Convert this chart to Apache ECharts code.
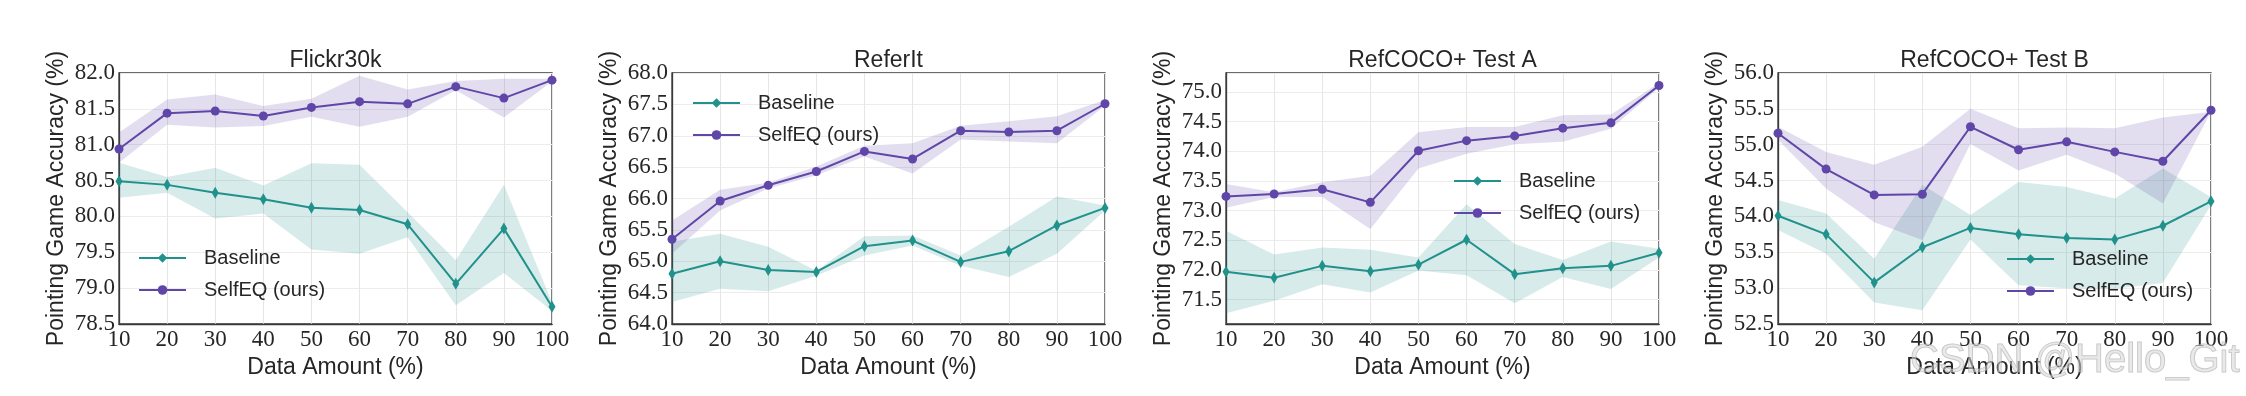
<!DOCTYPE html>
<html>
<head>
<meta charset="utf-8">
<script src="https://cdn.jsdelivr.net/npm/echarts@6/dist/echarts.min.js"></script>
<style>
  html, body { margin: 0; padding: 0; background: #fff; }
  #chart { width: 2246px; height: 396px; }
</style>
</head>
<body>
<div id="chart"></div>
<script>
// x categories (data amount %)
const dataAmount = ["10", "20", "30", "40", "50", "60", "70", "80", "90", "100"];

// Flickr30k
const flickrBase   = [80.49, 80.44, 80.33, 80.24, 80.12, 80.09, 79.89, 79.06, 79.83, 78.74];
const flickrBaseLo = [80.26, 80.33, 79.97, 80.04, 79.54, 79.48, 79.71, 78.76, 79.21, 78.68];
const flickrBaseHi = [80.75, 80.55, 80.68, 80.43, 80.74, 80.72, 80.06, 79.39, 80.44, 78.80];
const flickrSelf   = [80.94, 81.44, 81.47, 81.40, 81.52, 81.60, 81.57, 81.81, 81.65, 81.90];
const flickrSelfLo = [80.75, 81.28, 81.24, 81.26, 81.39, 81.25, 81.39, 81.76, 81.38, 81.88];
const flickrSelfHi = [81.17, 81.63, 81.70, 81.54, 81.64, 81.96, 81.77, 81.89, 81.92, 81.92];

// ReferIt
const referBase   = [64.80, 65.00, 64.86, 64.83, 65.24, 65.33, 64.99, 65.16, 65.57, 65.85];
const referBaseLo = [64.35, 64.56, 64.52, 64.77, 65.09, 65.25, 64.93, 64.75, 65.12, 65.81];
const referBaseHi = [65.31, 65.44, 65.23, 64.85, 65.40, 65.41, 65.09, 65.55, 66.03, 65.89];
const referSelf   = [65.35, 65.96, 66.21, 66.43, 66.75, 66.63, 67.08, 67.06, 67.08, 67.51];
const referSelfLo = [65.12, 65.81, 66.16, 66.37, 66.67, 66.40, 66.94, 66.91, 66.88, 67.48];
const referSelfHi = [65.65, 66.14, 66.25, 66.51, 66.84, 66.88, 67.16, 67.23, 67.31, 67.57];

// RefCOCO+ Test A
const testABase   = [71.97, 71.87, 72.07, 71.98, 72.09, 72.51, 71.93, 72.03, 72.07, 72.29];
const testABaseLo = [71.27, 71.48, 71.76, 71.62, 71.99, 71.91, 71.44, 71.88, 71.68, 72.21];
const testABaseHi = [72.66, 72.26, 72.38, 72.34, 72.21, 73.11, 72.44, 72.17, 72.48, 72.36];
const testASelf   = [73.24, 73.28, 73.36, 73.14, 74.01, 74.18, 74.26, 74.39, 74.48, 75.11];
const testASelfLo = [73.05, 73.23, 73.23, 72.69, 73.71, 73.96, 74.12, 74.16, 74.38, 75.07];
const testASelfHi = [73.45, 73.31, 73.48, 73.59, 74.32, 74.41, 74.41, 74.61, 74.62, 75.15];

// RefCOCO+ Test B
const testBBase   = [54.01, 53.75, 53.08, 53.57, 53.84, 53.75, 53.70, 53.68, 53.87, 54.21];
const testBBaseLo = [53.81, 53.48, 52.80, 52.69, 53.68, 53.04, 53.00, 52.99, 53.07, 54.16];
const testBBaseHi = [54.23, 54.04, 53.41, 54.44, 54.02, 54.48, 54.41, 54.25, 54.67, 54.27];
const testBSelf   = [55.16, 54.66, 54.30, 54.31, 55.25, 54.93, 55.04, 54.90, 54.77, 55.48];
const testBSelfLo = [55.07, 54.39, 53.92, 53.67, 55.01, 54.64, 54.86, 54.60, 54.18, 55.44];
const testBSelfHi = [55.25, 54.90, 54.72, 54.97, 55.50, 55.23, 55.24, 55.23, 55.38, 55.46];

const titles = ["Flickr30k", "ReferIt", "RefCOCO+ Test A", "RefCOCO+ Test B"];
const yMins = [78.5, 64.0, 71.09, 52.5];
const yMaxs = [82.0, 68.0, 75.32, 56.0];

const panels = [
  [flickrBase, flickrBaseLo, flickrBaseHi, flickrSelf, flickrSelfLo, flickrSelfHi],
  [referBase, referBaseLo, referBaseHi, referSelf, referSelfLo, referSelfHi],
  [testABase, testABaseLo, testABaseHi, testASelf, testASelfLo, testASelfHi],
  [testBBase, testBBaseLo, testBBaseHi, testBSelf, testBSelfLo, testBSelfHi]
];

// layout of the four axes boxes
const boxes = [
  { left: 119, legend: { left: 138, top: 247 } },
  { left: 672, legend: { left: 692, top: 92 } },
  { left: 1226, legend: { left: 1453, top: 170 } },
  { left: 1778, legend: { left: 2006, top: 248 } }
];
const boxWidth = 433;

const teal = "#21918c";
const purple = "#5f46a8";
const textColor = "#262626";
const serif = "Liberation Serif";
const sans = "Liberation Sans";

const diff = (hi, lo) => hi.map((v, i) => +(v - lo[i]).toFixed(3));

let grid = [], xAxis = [], yAxis = [], series = [], legend = [], graphic = [];

boxes.forEach((b, i) => {
  grid.push({
    left: b.left, top: 73, width: boxWidth, height: 251,
    show: true, borderColor: "#3a3a3a", borderWidth: 1.3, backgroundColor: "transparent"
  });
  xAxis.push({
    gridIndex: i, type: "category", boundaryGap: false, data: dataAmount,
    name: "Data Amount (%)", nameLocation: "middle", nameGap: 32,
    nameTextStyle: { fontFamily: sans, fontSize: 23, color: textColor },
    axisLine: { show: true, lineStyle: { color: "#3a3a3a", width: 1.3 } },
    axisTick: { show: false },
    axisLabel: { interval: 0, fontFamily: serif, fontSize: 23, color: textColor, margin: 4 },
    splitLine: { show: true, interval: 0, lineStyle: { color: "#e6e6e6", width: 1 } }
  });
  let yAx = {
    gridIndex: i, type: "value", min: yMins[i], max: yMaxs[i],
    name: "Pointing Game Accuracy (%)", nameLocation: "middle", nameGap: 51,
    nameTextStyle: { fontFamily: sans, fontSize: 23, color: textColor },
    axisLine: { show: true, lineStyle: { color: "#3a3a3a", width: 1.3 } },
    axisTick: { show: false },
    axisLabel: {
      fontFamily: serif, fontSize: 23, color: textColor, margin: 4,
      formatter: (v) => v.toFixed(1)
    },
    splitLine: { show: true, lineStyle: { color: "#ececec", width: 1 } }
  };
  if (i === 2) {
    // auto limits, ticks every 0.5
    yAx.splitNumber = 8;
    yAx.axisLabel.showMinLabel = false;
    yAx.axisLabel.showMaxLabel = false;
  } else {
    yAx.interval = 0.5;
  }
  yAxis.push(yAx);

  const [base, baseLo, baseHi, self, selfLo, selfHi] = panels[i];
  const common = { xAxisIndex: i, yAxisIndex: i, type: "line", animation: false };

  // shaded bands (stacked lower + width)
  series.push(Object.assign({}, common, {
    name: "bandB" + i, stack: "bandB" + i, data: baseLo,
    symbol: "none", lineStyle: { opacity: 0 }, silent: true, z: 1
  }));
  series.push(Object.assign({}, common, {
    name: "bandB" + i + "w", stack: "bandB" + i, data: diff(baseHi, baseLo),
    symbol: "none", lineStyle: { opacity: 0 }, silent: true, z: 1,
    areaStyle: { color: teal, opacity: 0.18 }
  }));
  series.push(Object.assign({}, common, {
    name: "bandS" + i, stack: "bandS" + i, data: selfLo,
    symbol: "none", lineStyle: { opacity: 0 }, silent: true, z: 1
  }));
  series.push(Object.assign({}, common, {
    name: "bandS" + i + "w", stack: "bandS" + i, data: diff(selfHi, selfLo),
    symbol: "none", lineStyle: { opacity: 0 }, silent: true, z: 1,
    areaStyle: { color: purple, opacity: 0.18 }
  }));

  // mean lines
  series.push(Object.assign({}, common, {
    name: "Baseline", data: base, z: 3,
    symbol: "diamond", symbolSize: [7, 12], showAllSymbol: true,
    lineStyle: { color: teal, width: 2 }, itemStyle: { color: teal }
  }));
  series.push(Object.assign({}, common, {
    name: "SelfEQ (ours)", data: self, z: 4,
    symbol: "circle", symbolSize: 9, showAllSymbol: true,
    lineStyle: { color: purple, width: 2 }, itemStyle: { color: purple }
  }));

  legend.push({
    data: ["Baseline", "SelfEQ (ours)"],
    orient: "vertical", left: b.legend.left, top: b.legend.top,
    padding: 0, itemWidth: 47, itemHeight: 12, itemGap: 10,
    selectedMode: false,
    textStyle: { fontFamily: sans, fontSize: 20, color: textColor, lineHeight: 22, padding: [0, 0, 0, 13] }
  });

  graphic.push({
    type: "text", x: b.left + boxWidth / 2, y: 61,
    style: {
      text: titles[i], fontFamily: sans, fontSize: 23, fill: textColor,
      textAlign: "center", textVerticalAlign: "middle"
    }
  });
});

// watermark from the source image
graphic.push({
  type: "text", x: 1910, y: 361, z: 100,
  style: {
    text: "CSDN @Hello_Git", fontFamily: sans, fontSize: 40,
    fill: "rgba(215,215,215,0.55)", stroke: "rgba(150,150,150,0.55)", lineWidth: 1,
    textAlign: "left", textVerticalAlign: "middle"
  }
});

var myechart = echarts.init(document.getElementById("chart"));
myechart.setOption({
  backgroundColor: "#fff",
  animation: false,
  grid: grid,
  xAxis: xAxis,
  yAxis: yAxis,
  legend: legend,
  graphic: graphic,
  series: series
});
</script>
</body>
</html>
